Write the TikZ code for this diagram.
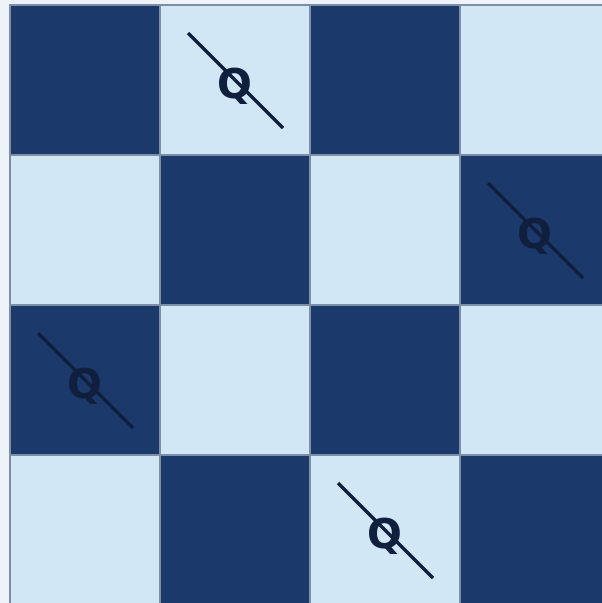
\documentclass[tikz,border=0pt]{standalone}
\usepackage{fontspec}
\setsansfont{DejaVu Sans}
\definecolor{BoardDark}{HTML}{1B3A6B}
\definecolor{BoardLight}{HTML}{D1E7F5}
\definecolor{PageBg}{HTML}{EEF3F9}
\definecolor{GridGray}{HTML}{7D8FA6}
\definecolor{QueenInk}{HTML}{0F1F3D}
\usetikzlibrary{positioning}
\tikzset{
  darkcell/.style={fill=BoardDark, draw=GridGray, line width=1.2pt},
  lightcell/.style={fill=BoardLight, draw=GridGray, line width=1.2pt},
  queen/.style={text=QueenInk, font=\sffamily\bfseries\fontsize{41}{41}\selectfont, inner sep=0pt},
  slash/.style={draw=QueenInk, line width=3.4pt}
}
\begin{document}
\begin{tikzpicture}[x=1pt, y=-1pt]
\useasboundingbox (0,0) rectangle (602,603);
\fill[PageBg] (0,0) rectangle (602,603);
\clip (0,0) rectangle (602,603);
% board cells
\foreach \r in {0,...,3}{
  \foreach \c in {0,...,3}{
    \pgfmathtruncatemacro{\parity}{mod(\r+\c,2)}
    \ifnum\parity=0
      \draw[darkcell] (10+150*\c,5+150*\r) rectangle ++(150,150);
    \else
      \draw[lightcell] (10+150*\c,5+150*\r) rectangle ++(150,150);
    \fi
  }
}
% queens, one per row
\foreach \r/\c in {0/1, 1/3, 2/0, 3/2}{
  \coordinate (cell\r) at (10+150*\c,5+150*\r);
  \node[queen] (q\r) at ([shift={(75,81)}]cell\r) {Q};
  \coordinate (s\r) at ([shift={(28,28)}]cell\r);
  \coordinate (e\r) at ([shift={(123,123)}]cell\r);
  \draw[slash] (s\r) -- (e\r);
}
\end{tikzpicture}
\end{document}
